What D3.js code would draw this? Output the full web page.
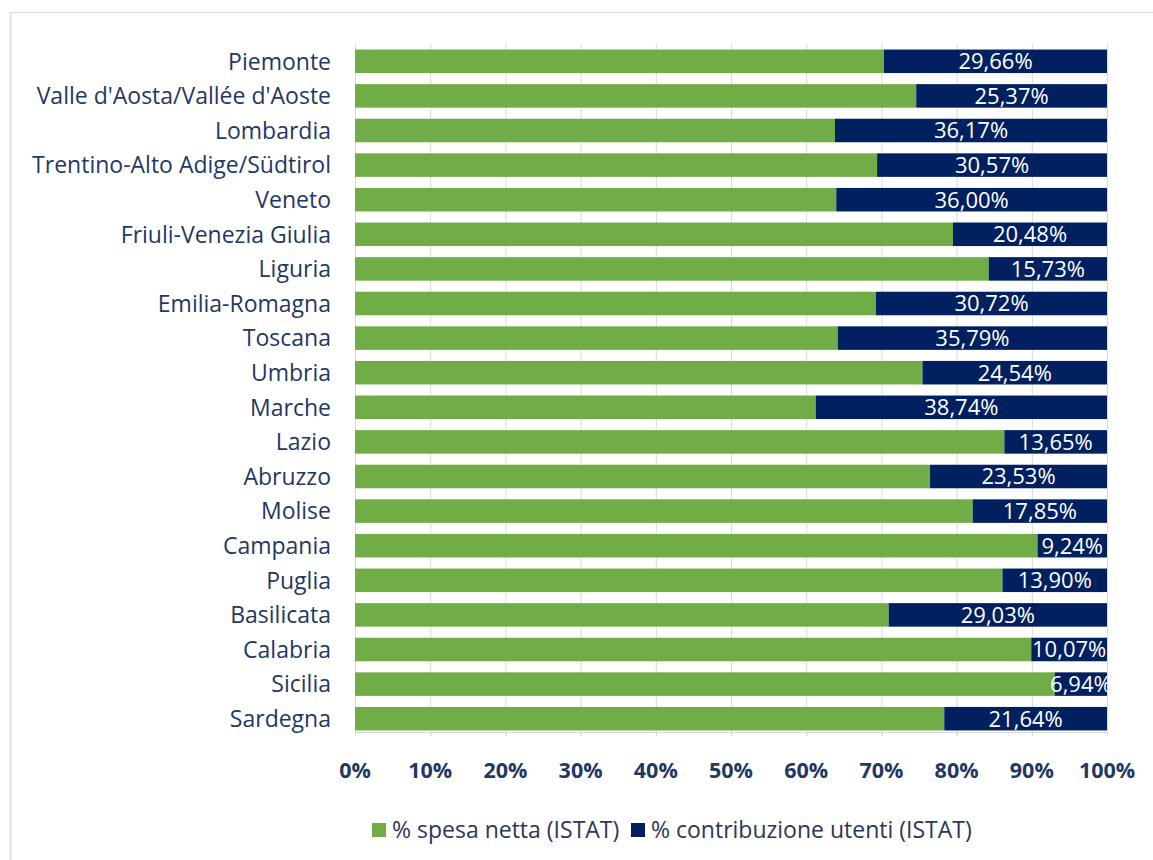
<!DOCTYPE html>
<html>
<head>
<meta charset="utf-8">
<script src="https://cdn.jsdelivr.net/npm/d3@7/dist/d3.min.js"></script>
<style>
  html, body { margin: 0; padding: 0; background: #fff; }
  svg { display: block; }
</style>
</head>
<body>
<svg id="chart" width="1153" height="860"></svg>
<script>
// Regions (top to bottom)
const regions = [
  "Piemonte", "Valle d'Aosta/Vallée d'Aoste", "Lombardia", "Trentino-Alto Adige/Südtirol",
  "Veneto", "Friuli-Venezia Giulia", "Liguria", "Emilia-Romagna", "Toscana", "Umbria",
  "Marche", "Lazio", "Abruzzo", "Molise", "Campania", "Puglia", "Basilicata",
  "Calabria", "Sicilia", "Sardegna"
];

// % contribuzione utenti (ISTAT)
const contribuzioneUtenti = [
  29.66, 25.37, 36.17, 30.57, 36.00, 20.48, 15.73, 30.72, 35.79, 24.54,
  38.74, 13.65, 23.53, 17.85, 9.24, 13.90, 29.03, 10.07, 6.94, 21.64
];

// % spesa netta (ISTAT) = remaining share of each region's total
const spesaNetta = contribuzioneUtenti.map(v => +(100 - v).toFixed(2));

const xTicks = [0, 10, 20, 30, 40, 50, 60, 70, 80, 90, 100];
const seriesNames = ["% spesa netta (ISTAT)", "% contribuzione utenti (ISTAT)"];
const seriesColors = ["#70AD47", "#002060"];

const svg = d3.select("#chart");
const labelColor = "#1F3864";
const fontFamily = "'Open Sans', sans-serif";

// frame lines (top and left)
svg.append("line").attr("x1", 10).attr("x2", 1153).attr("y1", 12.5).attr("y2", 12.5)
  .attr("stroke", "#d9d9d9").attr("stroke-width", 1.2);
svg.append("line").attr("x1", 10.5).attr("x2", 10.5).attr("y1", 12).attr("y2", 860)
  .attr("stroke", "#d9d9d9").attr("stroke-width", 1.5);

const x = d3.scaleLinear().domain([0, 100]).range([355, 1107]);
const y = d3.scaleBand().domain(regions).range([44, 736])
  .paddingInner(0.32).paddingOuter(0.16);

// vertical gridlines
svg.append("g").selectAll("line").data(xTicks).join("line")
  .attr("x1", d => x(d) + 0.5).attr("x2", d => x(d) + 0.5)
  .attr("y1", 44).attr("y2", 736)
  .attr("stroke", "#d9d9d9").attr("stroke-width", 1);

// bottom axis with small ticks
const axisG = svg.append("g").attr("transform", "translate(0,732)");
axisG.append("line").attr("x1", x(0)).attr("x2", x(100)).attr("y1", 0.5).attr("y2", 0.5)
  .attr("stroke", "#d9d9d9");
axisG.selectAll("line.tick").data(xTicks).join("line").attr("class", "tick")
  .attr("x1", d => x(d) + 0.5).attr("x2", d => x(d) + 0.5)
  .attr("y1", 0).attr("y2", 4).attr("stroke", "#d9d9d9");
axisG.selectAll("text").data(xTicks).join("text")
  .attr("x", d => x(d)).attr("y", 46)
  .attr("text-anchor", "middle")
  .attr("font-family", fontFamily).attr("font-weight", "bold")
  .attr("font-size", 21.5).attr("fill", labelColor)
  .text(d => d + "%");

// stacked bars
const rows = regions.map((r, i) => ({ region: r, a: spesaNetta[i], b: contribuzioneUtenti[i] }));

const gBars = svg.append("g");
gBars.selectAll("rect.a").data(rows).join("rect").attr("class", "a")
  .attr("x", x(0)).attr("y", d => y(d.region))
  .attr("width", d => x(d.a) - x(0)).attr("height", y.bandwidth())
  .attr("fill", seriesColors[0]);
gBars.selectAll("rect.b").data(rows).join("rect").attr("class", "b")
  .attr("x", d => x(d.a)).attr("y", d => y(d.region))
  .attr("width", d => x(d.a + d.b) - x(d.a)).attr("height", y.bandwidth())
  .attr("fill", seriesColors[1]);

// value labels centered in the blue segment
const fmt = v => v.toFixed(2).replace(".", ",") + "%";
gBars.selectAll("text.val").data(rows).join("text").attr("class", "val")
  .attr("x", d => (x(d.a) + x(d.a + d.b)) / 2)
  .attr("y", d => y(d.region) + y.bandwidth() / 2)
  .attr("dy", "0.36em")
  .attr("text-anchor", "middle")
  .attr("font-family", fontFamily).attr("font-size", 22).attr("fill", "#ffffff")
  .text(d => fmt(d.b));

// category labels
svg.append("g").selectAll("text").data(regions).join("text")
  .attr("x", 331).attr("y", d => y(d) + y.bandwidth() / 2)
  .attr("dy", "0.36em").attr("text-anchor", "end")
  .attr("font-family", fontFamily).attr("font-size", 23).attr("fill", labelColor)
  .text(d => d);

// legend
const legend = svg.append("g").attr("transform", "translate(0,830)");
const legendX = [372, 631];
seriesNames.forEach((name, i) => {
  legend.append("rect").attr("x", legendX[i]).attr("y", -7).attr("width", 14).attr("height", 14)
    .attr("fill", seriesColors[i]);
  legend.append("text").attr("x", legendX[i] + 20).attr("y", 0).attr("dy", "0.36em")
    .attr("font-family", fontFamily).attr("font-size", 23).attr("fill", "#2c3656")
    .text(name);
});
</script>
</body>
</html>
